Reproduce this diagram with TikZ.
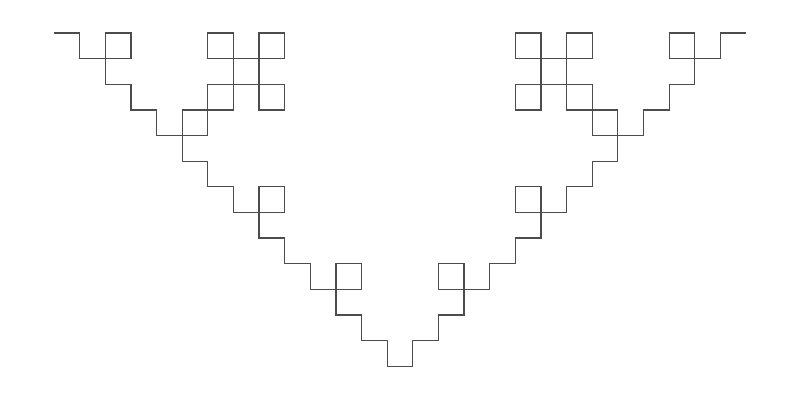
\documentclass[tikz,border=0pt]{standalone}
\usepackage{tikz}
\usetikzlibrary{lindenmayersystems}

\pgfdeclarelindenmayersystem{quadratic Koch}{
  \rule{F -> F-F+F+F-F}
}

\begin{document}
\begin{tikzpicture}
        \useasboundingbox (-1.08,-7.34) rectangle (14.92,0.66);
        \coordinate (A) at (0, 0);
        \draw[black!70, line width=0.7pt, line join=miter]
            (A) [lindenmayer system={quadratic Koch, axiom=F, order=3, step=5.126mm, angle=90}]
            lindenmayer system;
    \end{tikzpicture}
\end{document}
